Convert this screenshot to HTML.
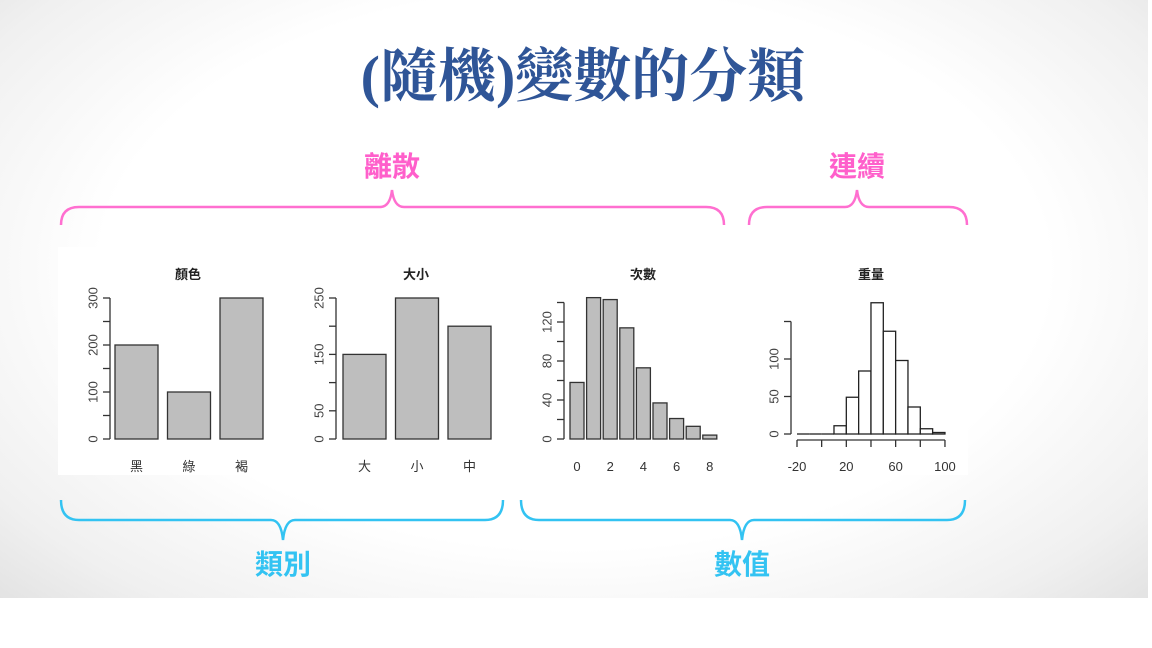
<!DOCTYPE html>
<html><head><meta charset="utf-8">
<style>
html,body{margin:0;padding:0;background:#fff;}
#wrap{position:relative;width:1152px;height:648px;overflow:hidden;background:#fff;}
#slide{position:absolute;left:0;top:0;width:1148px;height:598px;background:radial-gradient(ellipse 75% 85% at 50% 45%,#ffffff 55%,#f0f0f0 80%,#dcdcdc 100%);}
svg{position:absolute;left:0;top:0;}
text{font-family:"Liberation Sans","Noto Sans CJK TC",sans-serif;}
</style></head><body>
<div id="wrap">
<div id="slide"></div>
<svg id="svg" width="1152" height="648" viewBox="0 0 1152 648">
<text x="583" y="96" text-anchor="middle" font-size="58" font-weight="bold" fill="#2f5597" style="font-family:'Liberation Serif','Noto Serif CJK SC',serif">(隨機)變數的分類</text>
<text x="392" y="176" text-anchor="middle" font-size="28" font-weight="bold" fill="#ff5fcb">離散</text>
<text x="857" y="176" text-anchor="middle" font-size="28" font-weight="bold" fill="#ff5fcb">連續</text>
<path d="M61,225 Q61,207 79,207 L380,207 Q390,207 392,190 Q394,207 404,207 L706,207 Q724,207 724,225" fill="none" stroke="#ff6fd0" stroke-width="2.5"/>
<path d="M749,225 Q749,207 767,207 L845,207 Q855,207 857,190 Q859,207 869,207 L949,207 Q967,207 967,225" fill="none" stroke="#ff6fd0" stroke-width="2.5"/>
<rect x="58" y="247" width="910" height="228" fill="#fff"/>
<path d="M61,500 Q61,520 79,520 L271,520 Q281,520 283,540 Q285,520 295,520 L485,520 Q503,520 503,500" fill="none" stroke="#33c3f2" stroke-width="2.5"/>
<path d="M521,500 Q521,520 539,520 L730,520 Q740,520 742,540 Q744,520 754,520 L947,520 Q965,520 965,500" fill="none" stroke="#33c3f2" stroke-width="2.5"/>
<text x="283" y="574" text-anchor="middle" font-size="28" font-weight="bold" fill="#33c3f2">類別</text>
<text x="742" y="574" text-anchor="middle" font-size="28" font-weight="bold" fill="#33c3f2">數值</text>
<g id="charts"></g>
</svg>
</div>
<script>
const colorCats=["黑","綠","褐"];
const colorVals=[200,100,300];
const colorTicks=[0,50,100,150,200,250,300];
const colorTickLabels=["0","","100","","200","","300"];
const sizeCats=["大","小","中"];
const sizeVals=[150,250,200];
const sizeTicks=[0,50,100,150,200,250];
const sizeTickLabels=["0","50","","150","","250"];
const countVals=[58,145,143,114,73,37,21,13,4];
const countTicks=[0,20,40,60,80,100,120,140];
const countTickLabels=["0","","40","","80","","120",""];
const countXLabels=["0","","2","","4","","6","","8"];
const weightBins=[-20,-10,0,10,20,30,40,50,60,70,80,90];
const weightVals=[0,0,0,11,49,84,175,137,98,36,7,2];
const weightYTicks=[0,50,100,150];
const weightYLabels=["0","50","100",""];
const weightXTicks=[-20,0,20,40,60,80,100];
const weightXLabels=["-20","","20","","60","","100"];

const NS="http://www.w3.org/2000/svg";
const G=document.getElementById('charts');
function mk(tag,attrs,parent){const e=document.createElementNS(NS,tag);for(const k in attrs)e.setAttribute(k,attrs[k]);(parent||G).appendChild(e);return e;}
function yAxis(g,x,scale,ticks,labels){
  const l=mk('line',{x1:x,x2:x,y1:scale(ticks[0]),y2:scale(ticks[ticks.length-1]),stroke:'#333','stroke-width':1.3},g);
  
  ticks.forEach((t,i)=>{
    const tk=mk('line',{x1:x-7,x2:x,y1:scale(t),y2:scale(t),stroke:'#333','stroke-width':1.3},g);
    
    if(labels[i]){const tx=mk('text',{x:x-17,y:scale(t),'font-size':13,fill:'#444','text-anchor':'middle','dominant-baseline':'central',transform:`rotate(-90 ${x-17} ${scale(t)})`},g);
      tx.textContent=labels[i];
      }
  });
}
function title(g,x,t){const e=mk('text',{x:x,y:279,'font-size':13,'font-weight':'bold',fill:'#222','text-anchor':'middle'},g);e.textContent=t;
  }
function barChart(name,ax,x0,cats,vals,ticks,labels,ttl,tx){
  const g=mk('g',{});
  
  const maxT=ticks[ticks.length-1];
  const sy=v=>439-v*(141/maxT);
  title(g,tx,ttl);
  yAxis(g,ax,sy,ticks,labels);
  cats.forEach((c,i)=>{
    const bx=x0+i*52.5;
    const r=mk('rect',{x:bx,y:sy(vals[i]),width:43,height:439-sy(vals[i]),fill:'#bebebe',stroke:'#333','stroke-width':1.3},g);
    
    const t=mk('text',{x:bx+21.5,y:471,'font-size':13,fill:'#333','text-anchor':'middle'},g);t.textContent=c;
    
  });
}
barChart('color-bar-chart',110,115,colorCats,colorVals,colorTicks,colorTickLabels,'顏色',188);
barChart('size-bar-chart',336,343,sizeCats,sizeVals,sizeTicks,sizeTickLabels,'大小',416);

(function(){
  const g=mk('g',{});
  
  const sy=v=>439-v*0.975;
  title(g,643,'次數');
  yAxis(g,564,sy,countTicks,countTickLabels);
  countVals.forEach((v,i)=>{
    const bx=570+i*16.6;
    const r=mk('rect',{x:bx,y:sy(v),width:14,height:439-sy(v),fill:'#bebebe',stroke:'#333','stroke-width':1.3},g);
    
    if(countXLabels[i]){const t=mk('text',{x:bx+7,y:471,'font-size':13,fill:'#333','text-anchor':'middle'},g);t.textContent=countXLabels[i];
      }
  });
})();

(function(){
  const g=mk('g',{});
  
  const sy=v=>434-v*0.75;
  const sx=v=>797+(v+20)*1.233;
  title(g,871,'重量');
  yAxis(g,791,sy,weightYTicks,weightYLabels);
  weightBins.forEach((b,i)=>{
    const r=mk('rect',{x:sx(b),y:sy(weightVals[i]),width:sx(b+10)-sx(b),height:434-sy(weightVals[i]),fill:'#fff',stroke:'#222','stroke-width':1.3},g);
    
    if(weightVals[i]===0){
      const z=mk('line',{x1:sx(b),x2:sx(b+10),y1:sy(0),y2:sy(0),stroke:'#222','stroke-width':1.3},g);
      
    }
  });
  const xl=mk('line',{x1:sx(weightXTicks[0]),x2:sx(weightXTicks[weightXTicks.length-1]),y1:440,y2:440,stroke:'#333','stroke-width':1.3},g);
  
  weightXTicks.forEach((t,i)=>{
    const tk=mk('line',{x1:sx(t),x2:sx(t),y1:440,y2:447,stroke:'#333','stroke-width':1.3},g);
    
    if(weightXLabels[i]){const tx=mk('text',{x:sx(t),y:471,'font-size':13,fill:'#333','text-anchor':'middle'},g);tx.textContent=weightXLabels[i];
      }
  });
})();
</script>
</body></html>
